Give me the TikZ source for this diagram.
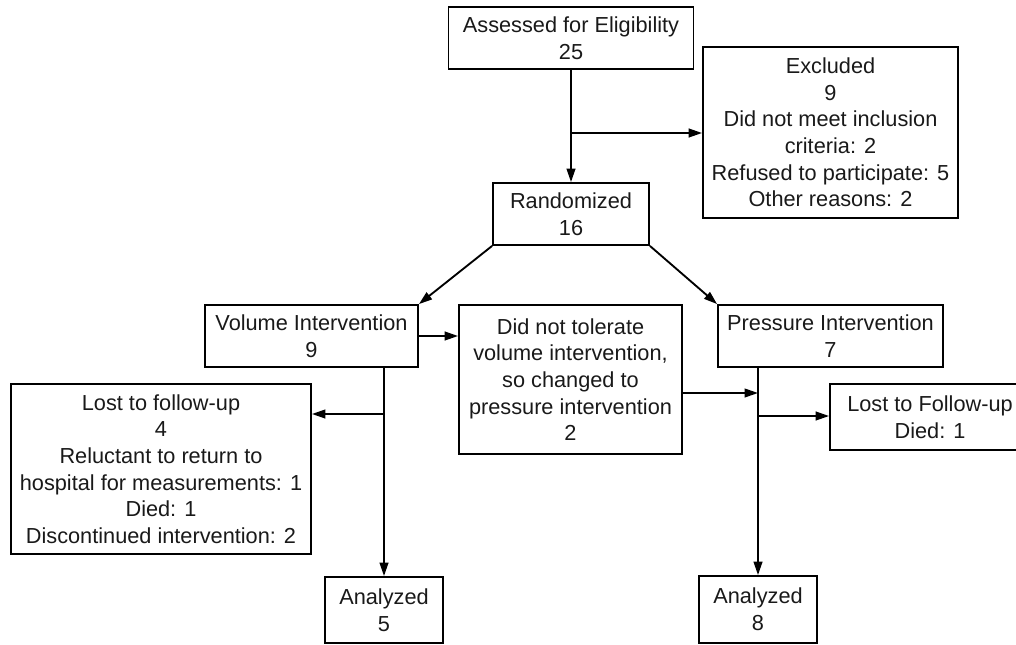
\documentclass[tikz,border=0pt]{standalone}
\usepackage{fontspec}
\setmainfont{Liberation Sans}
\usetikzlibrary{arrows.meta}
\begin{document}
\begin{tikzpicture}[x=0.75pt,y=-0.75pt,
  box/.style={draw, line width=1.4pt, inner sep=0pt, align=center,
    font=\fontsize{16.3}{20}\selectfont, text=black!90},
  arr/.style={line width=1.4pt, -{Triangle[length=10pt,width=6.5pt]}},
  ln/.style={line width=1.4pt}]
\useasboundingbox (0,0) rectangle (1016,645);
\clip (0,0) rectangle (1016,645);

\node[box, minimum width=183.75pt, minimum height=46.5pt] (assess) at (571,38)
  {Assessed for Eligibility\\25};
\node[box, minimum width=191.25pt, minimum height=128.25pt] (excl) at (830.5,132.5)
  {Excluded\\9\\Did not meet inclusion\\criteria: 2\\Refused to participate: 5\\Other reasons: 2};
\node[box, minimum width=117pt, minimum height=46.5pt] (rand) at (571,214)
  {Randomized\\16};
\node[box, minimum width=159.75pt, minimum height=46.5pt] (vol) at (311.5,336)
  {Volume Intervention\\9};
\node[box, minimum width=167.25pt, minimum height=111.75pt] (dnt) at (570.5,379.5)
  {Did not tolerate\\volume intervention,\\so changed to\\pressure intervention\\2};
\node[box, minimum width=168.75pt, minimum height=46.5pt] (press) at (830.5,336)
  {Pressure Intervention\\7};
\node[box, minimum width=225pt, minimum height=127.5pt] (lostL) at (161,469)
  {Lost to follow-up\\4\\Reluctant to return to\\hospital for measurements: 1\\Died: 1\\Discontinued intervention: 2};
\node[box, minimum width=150pt, minimum height=49.5pt] (lostR) at (930,417)
  {Lost to Follow-up\\Died: 1};
\node[box, minimum width=88.5pt, minimum height=49.5pt] (an5) at (384,610)
  {Analyzed\\5};
\node[box, minimum width=88.5pt, minimum height=50.25pt] (an8) at (758,609.5)
  {Analyzed\\8};

% top
\draw[arr] (assess.south) -- (rand.north);
\coordinate (b1) at (571,133);
\draw[arr] (b1) -- (b1 -| excl.west);
% randomization
\draw[arr] (rand.south west) -- (vol.north east);
\draw[arr] (rand.south east) -- (press.north west);
% volume arm
\draw[arr] (vol.east) -- (vol.east -| dnt.west);
\draw[arr] (an5.north |- vol.south) -- (an5.north);
\coordinate (b2) at (384,414);
\draw[arr] (b2) -- (b2 -| lostL.east);
% pressure arm
\draw[arr] (an8.north |- press.south) -- (an8.north);
\coordinate (b3) at (758,393);
\draw[arr] (dnt.east |- b3) -- (b3);
\coordinate (b4) at (758,416);
\draw[arr] (b4) -- (b4 -| lostR.west);
\end{tikzpicture}
\end{document}
